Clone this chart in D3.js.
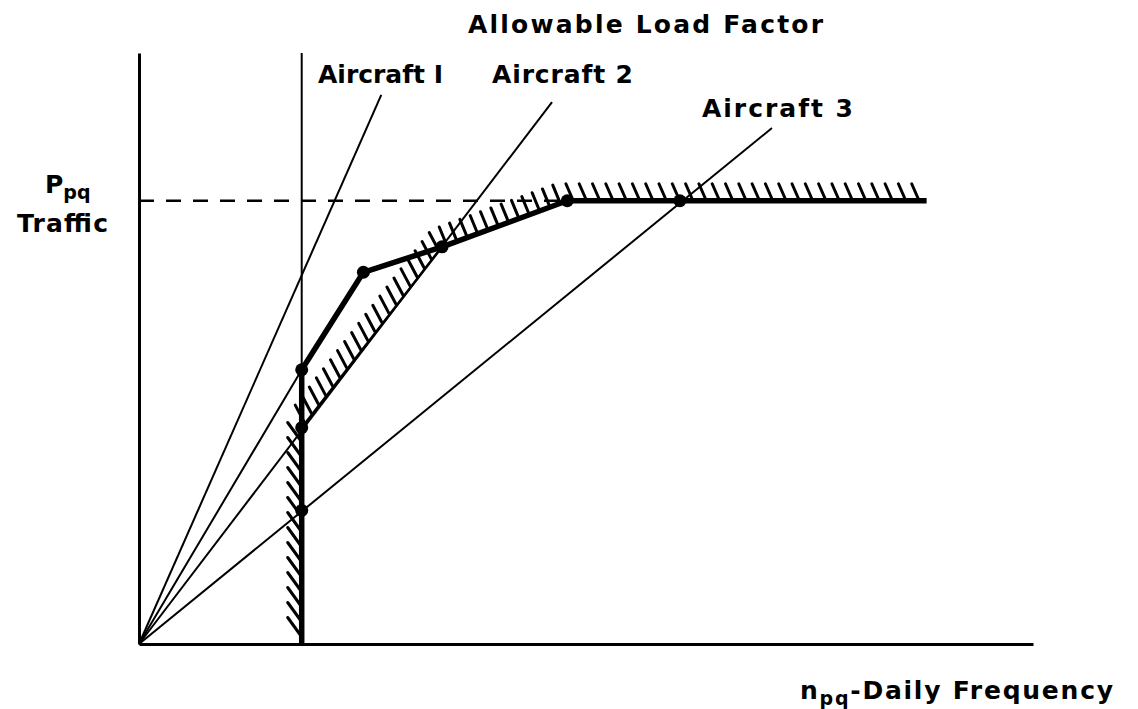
<!DOCTYPE html>
<html lang="en">
<head>
<meta charset="UTF-8">
<title>Allowable Load Factor</title>
<script src="https://d3js.org/d3.v7.min.js"></script>
<style>
    body { margin: 0; background: #fff; }
    svg text { font-family: "DejaVu Sans", sans-serif; font-weight: bold; fill: #000; }
</style>
</head>
<body>
<div id="chart"></div>
<script>
// frequency n_pq on x, traffic P_pq on y, both in arbitrary units (0-100)
const minFrequency = 18.2;
const trafficLevel = 75;
const frequencyEnd = 88.1;

const aircraftNames = ["Aircraft I", "Aircraft 2", "Aircraft 3"];
const aircraftEnds = [[27.1, 92.9], [46.2, 91.7], [70.8, 87.3]];
const extraRayEnd = [18.2, 46.4];   // unlabeled ray that stops on the frequency limit

const boldPath = [[18.2, 0], [18.2, 46.4], [25.1, 62.9], [33.9, 67.2], [47.9, 75], [88.1, 75]];
const hatchBoundary = [[18.2, 0], [18.2, 36.6], [33.9, 67.2], [47.9, 75], [88.1, 75]];
const dots = [[18.2, 46.4], [18.2, 36.6], [18.2, 22.6], [25.1, 62.9], [33.9, 67.2], [47.9, 75], [60.5, 75]];

const width = 1138, height = 709;
const margin = { top: 53, right: 105, bottom: 65, left: 139 };

const svg = d3.select("#chart").append("svg")
    .attr("width", width)
    .attr("height", height);

const x = d3.scaleLinear().domain([0, 100]).range([margin.left, width - margin.right]);
const y = d3.scaleLinear().domain([0, 100]).range([height - margin.bottom, margin.top]);

// axes without ticks
svg.append("g")
    .attr("transform", `translate(0,${y(0)})`)
    .call(d3.axisBottom(x).tickValues([]).tickSizeOuter(0))
    .select(".domain").attr("stroke", "#000").attr("stroke-width", 3);
svg.append("g")
    .attr("transform", `translate(${x(0)},0)`)
    .call(d3.axisLeft(y).tickValues([]).tickSizeOuter(0))
    .select(".domain").attr("stroke", "#000").attr("stroke-width", 3);

// frequency limit
svg.append("line")
    .attr("x1", x(minFrequency)).attr("x2", x(minFrequency))
    .attr("y1", y(0)).attr("y2", y(100))
    .attr("stroke", "#000").attr("stroke-width", 2);

// traffic level, dashed
svg.append("line")
    .attr("x1", x(0)).attr("x2", x(47.9))
    .attr("y1", y(trafficLevel)).attr("y2", y(trafficLevel))
    .attr("stroke", "#000").attr("stroke-width", 2.5)
    .attr("stroke-dasharray", "15,12");

// rays from origin
const rays = aircraftEnds.concat([extraRayEnd]);
svg.selectAll(".ray")
    .data(rays)
    .enter().append("line")
    .attr("class", "ray")
    .attr("x1", x(0)).attr("y1", y(0))
    .attr("x2", d => x(d[0])).attr("y2", d => y(d[1]))
    .attr("stroke", "#000").attr("stroke-width", 2);

// hatching on the outside of the feasible boundary
const hatchStyle = [
    { step: 15, dx: -14, dy: -19 },
    { step: 11.5, dx: -10, dy: -18 },
    { step: 11, dx: -8, dy: -18 },
    { step: 13.3, dx: -8, dy: -17 }
];
const hatches = [];
for (let i = 0; i < hatchBoundary.length - 1; i++) {
    const a = [x(hatchBoundary[i][0]), y(hatchBoundary[i][1])];
    const b = [x(hatchBoundary[i + 1][0]), y(hatchBoundary[i + 1][1])];
    const len = Math.hypot(b[0] - a[0], b[1] - a[1]);
    const s = hatchStyle[i];
    for (let t = s.step / 2; t < len; t += s.step) {
        const px = a[0] + (b[0] - a[0]) * t / len;
        const py = a[1] + (b[1] - a[1]) * t / len;
        hatches.push([px, py, s.dx, s.dy]);
    }
}
svg.selectAll(".hatch")
    .data(hatches)
    .enter().append("line")
    .attr("class", "hatch")
    .attr("x1", d => d[0] - 1).attr("y1", d => d[1] - 1)
    .attr("x2", d => d[0] + d[2]).attr("y2", d => d[1] + d[3])
    .attr("stroke", "#000").attr("stroke-width", 3)
    .attr("stroke-linecap", "round");

svg.append("path")
    .datum(hatchBoundary.slice(1, 3))
    .attr("fill", "none").attr("stroke", "#000").attr("stroke-width", 2.5)
    .attr("d", d3.line().x(d => x(d[0])).y(d => y(d[1])));

// bold feasible path
svg.append("path")
    .datum(boldPath)
    .attr("fill", "none")
    .attr("stroke", "#000")
    .attr("stroke-width", 5.5)
    .attr("stroke-linejoin", "round")
    .attr("d", d3.line().x(d => x(d[0])).y(d => y(d[1])));

svg.selectAll(".dot")
    .data(dots)
    .enter().append("circle")
    .attr("class", "dot")
    .attr("cx", d => x(d[0])).attr("cy", d => y(d[1]))
    .attr("r", 6.5).attr("fill", "#000");

// labels
svg.append("text").attr("x", 468).attr("y", 33)
    .attr("font-size", 25).attr("textLength", 355)
    .text("Allowable Load Factor");

const labelPos = [[318, 83, 125], [492, 83, 141], [702, 117, 151]];
svg.selectAll(".aclabel")
    .data(aircraftNames)
    .enter().append("text")
    .attr("class", "aclabel")
    .attr("x", (d, i) => labelPos[i][0])
    .attr("y", (d, i) => labelPos[i][1])
    .attr("textLength", (d, i) => labelPos[i][2])
    .attr("font-size", 25)
    .text(d => d);

const pLabel = svg.append("text").attr("x", 45).attr("y", 193).attr("font-size", 25);
pLabel.append("tspan").text("P");
pLabel.append("tspan").attr("font-size", 19).attr("dy", 6).text("pq");

svg.append("text").attr("x", 17).attr("y", 232)
    .attr("font-size", 25).attr("textLength", 91)
    .text("Traffic");

const nLabel = svg.append("text").attr("x", 800).attr("y", 699)
    .attr("font-size", 25).attr("textLength", 313);
nLabel.append("tspan").text("n");
nLabel.append("tspan").attr("font-size", 19).attr("dy", 6).text("pq");
nLabel.append("tspan").attr("dy", -6).text("-Daily Frequency");
</script>
</body>
</html>
